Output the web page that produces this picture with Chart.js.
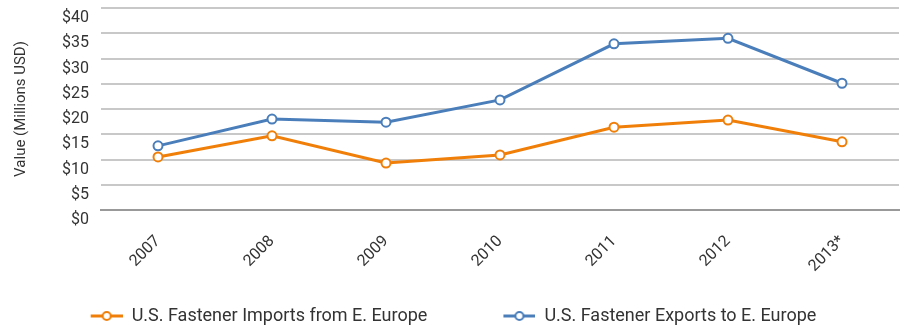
<!DOCTYPE html>
<html>
<head>
<meta charset="utf-8">
<script src="https://cdn.jsdelivr.net/npm/chart.js@4.4.1/dist/chart.umd.min.js"></script>
<style>
  html, body { margin: 0; padding: 0; background: #fff; }
  #wrap { width: 912px; height: 326px; }
</style>
</head>
<body>
<div id="wrap"><canvas id="grafico" width="912" height="326"></canvas></div>
<script>
// data
const anos = ["2007", "2008", "2009", "2010", "2011", "2012", "2013*"];
const importacoes = [10.5, 14.7, 9.3, 10.9, 16.4, 17.8, 13.5];
const exportacoes = [12.7, 18.0, 17.4, 21.8, 32.9, 34.0, 25.1];
const nomeImport = "U.S. Fastener Imports from E. Europe";
const nomeExport = "U.S. Fastener Exports to E. Europe";
const tituloY = "Value (Millions USD)";

const laranja = "#f07f09";
const azul = "#4a7ebb";

// legend marker: short line with a hollow circle, like the original
function marcador(cor) {
  const c = document.createElement("canvas");
  c.width = 40; c.height = 12;
  const g = c.getContext("2d");
  g.strokeStyle = cor;
  g.lineWidth = 3;
  g.beginPath(); g.moveTo(8, 6); g.lineTo(40, 6); g.stroke();
  g.fillStyle = "#fff";
  g.lineWidth = 2;
  g.beginPath(); g.arc(24, 6, 4, 0, Math.PI * 2); g.fill(); g.stroke();
  return c;
}
const marcadores = [marcador(laranja), marcador(azul)];

// legenda baixa, mas com itens bem afastados (o padding grande só serve para isso)
const ajusteLegenda = {
  id: "ajusteLegenda",
  beforeInit(chart) {
    const fitOriginal = chart.legend.fit;
    chart.legend.fit = function () {
      fitOriginal.bind(chart.legend)();
      this.height = 41;
    };
  },
  afterLayout(chart) {
    chart.legend.top -= 46;
  }
};

const fonte = "Roboto, 'DejaVu Sans', sans-serif";
const ctx = document.getElementById("grafico").getContext("2d");

new Chart(ctx, {
  type: "line",
  data: {
    labels: anos,
    datasets: [
      {
        label: nomeImport,
        data: importacoes,
        borderColor: laranja,
        backgroundColor: "#fff",
        borderWidth: 3,
        pointRadius: 4.5,
        pointBorderWidth: 2,
        pointBackgroundColor: "#fff",
        pointBorderColor: laranja,
        tension: 0
      },
      {
        label: nomeExport,
        data: exportacoes,
        borderColor: azul,
        backgroundColor: "#fff",
        borderWidth: 3,
        pointRadius: 4.5,
        pointBorderWidth: 2,
        pointBackgroundColor: "#fff",
        pointBorderColor: azul,
        tension: 0
      }
    ]
  },
  options: {
    responsive: false,
    animation: false,
    layout: { padding: { left: 0, right: 13, top: 8, bottom: 0 } },
    plugins: {
      tooltip: { enabled: false },
      legend: {
        position: "bottom",
        labels: {
          usePointStyle: true,
          pointStyleWidth: 40,
          color: "#333",
          font: { family: fonte, size: 18 },
          padding: 68,
          generateLabels: function (chart) {
            return chart.data.datasets.map((ds, i) => ({
              text: ds.label,
              pointStyle: marcadores[i],
              fillStyle: "#fff",
              strokeStyle: ds.borderColor,
              lineWidth: 0,
              fontColor: "#333",
              datasetIndex: i,
              hidden: false
            }));
          }
        }
      }
    },
    scales: {
      x: {
        offset: true,
        grid: { display: false, drawTicks: false },
        border: { color: "#999", width: 2 },
        ticks: {
          autoSkip: false,
          color: "#333",
          font: { family: fonte, size: 16 },
          minRotation: 45,
          maxRotation: 45,
          padding: 22
        },
        afterFit: function (s) { s.height = 75; }
      },
      y: {
        min: 0,
        max: 40,
        grid: { color: "#c8c8c8", lineWidth: 2, drawTicks: false },
        border: { display: false },
        ticks: {
          autoSkip: false,
          stepSize: 5,
          color: "#333",
          font: { family: fonte, size: 16 },
          padding: 12,
          labelOffset: 10,
          callback: v => "$" + v
        },
        title: {
          display: true,
          text: tituloY,
          color: "#333",
          font: { family: fonte, size: 15 },
          padding: { top: 12, bottom: 10 }
        },
        afterFit: function (s) { s.width = 101; s.paddingTop = 0; s.paddingBottom = 0; }
      }
    }
  },
  plugins: [ajusteLegenda]
});
</script>
</body>
</html>
